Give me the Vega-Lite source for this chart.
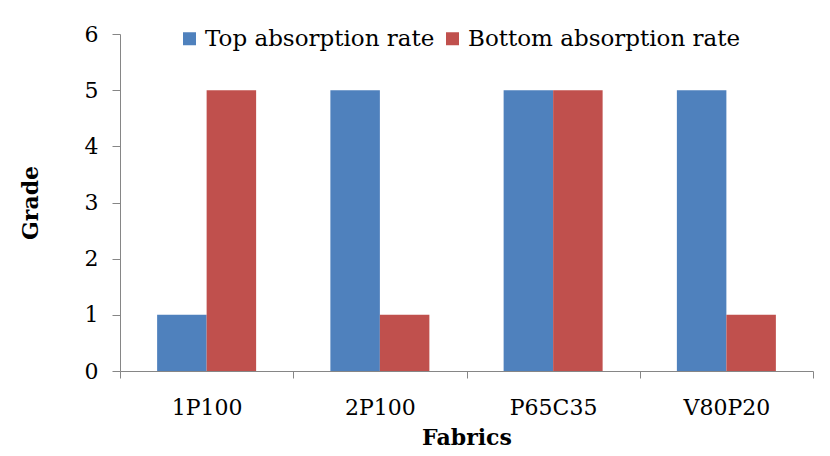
{
  "$schema": "https://vega.github.io/schema/vega-lite/v6.json",
  "autosize": {"type": "none"},
  "width": 693,
  "height": 337,
  "padding": {"left": 120, "top": 34, "right": 17, "bottom": 85},
  "background": "white",
  "data": {"values": [
    {"fabric": "1P100", "series": "Top absorption rate", "grade": 1},
    {"fabric": "1P100", "series": "Bottom absorption rate", "grade": 5},
    {"fabric": "2P100", "series": "Top absorption rate", "grade": 5},
    {"fabric": "2P100", "series": "Bottom absorption rate", "grade": 1},
    {"fabric": "P65C35", "series": "Top absorption rate", "grade": 5},
    {"fabric": "P65C35", "series": "Bottom absorption rate", "grade": 5},
    {"fabric": "V80P20", "series": "Top absorption rate", "grade": 5},
    {"fabric": "V80P20", "series": "Bottom absorption rate", "grade": 1}
  ]},
  "mark": {"type": "bar"},
  "encoding": {
    "x": {
      "field": "fabric", "type": "nominal", "sort": null,
      "scale": {"paddingInner": 0, "paddingOuter": 0},
      "axis": {"title": "Fabrics", "labelAngle": 0, "tickBand": "extent", "tickSize": 7, "labelPadding": 19, "titlePadding": 9}
    },
    "xOffset": {
      "field": "series", "type": "nominal",
      "sort": ["Top absorption rate", "Bottom absorption rate"],
      "scale": {"paddingInner": 0, "paddingOuter": 0.75}
    },
    "y": {
      "field": "grade", "type": "quantitative",
      "scale": {"domain": [0, 6], "nice": false},
      "axis": {"title": "Grade", "values": [0,1,2,3,4,5,6], "labelOverlap": false, "grid": false, "tickSize": 8, "labelPadding": 14, "titlePadding": 42}
    },
    "color": {
      "field": "series", "type": "nominal",
      "sort": ["Top absorption rate", "Bottom absorption rate"],
      "scale": {"range": ["#4F81BD", "#C0504D"]},
      "legend": {"title": null, "orient": "none", "direction": "horizontal", "legendX": 58, "legendY": -7, "symbolType": "square", "symbolSize": 169, "symbolStrokeWidth": 0, "labelFontSize": 23, "labelFont": "DejaVu Serif", "labelColor": "#000", "labelLimit": 400, "columnPadding": 6, "symbolOffset": 0, "labelOffset": 4}
    }
  },
  "config": {
    "view": {"stroke": null},
    "font": "DejaVu Serif",
    "axis": {
      "domainColor": "#868686", "tickColor": "#868686",
      "labelFont": "DejaVu Serif", "labelFontSize": 22, "labelColor": "#000",
      "titleFont": "DejaVu Serif", "titleFontSize": 22, "titleFontWeight": "bold", "titleColor": "#000"
    }
  }
}
